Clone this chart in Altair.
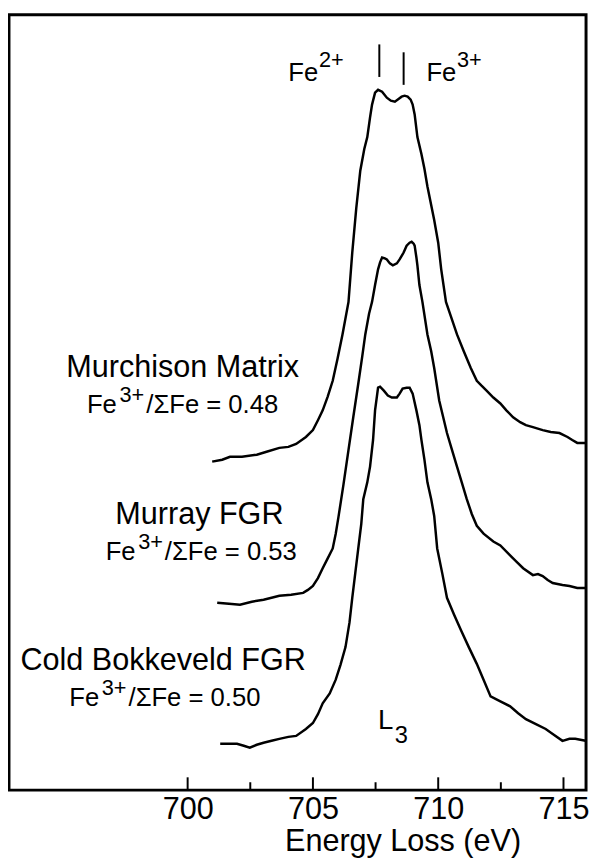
import altair as alt
import pandas as pd

# ---- spectra: energy loss (eV) and stacked intensity (arbitrary units, vertical offsets included)
murchison_energy = [700.98, 701.38, 701.69, 702.17, 702.76, 703.15, 703.66, 704.02, 704.33, 704.72,
                    705.00, 705.20, 705.39, 705.59, 705.79, 705.98, 706.18, 706.42, 706.57, 706.73,
                    706.89, 707.05, 707.17, 707.28, 707.36, 707.48, 707.60, 707.76, 707.95, 708.11,
                    708.27, 708.43, 708.54, 708.66, 708.78, 708.90, 708.98, 709.06, 709.17, 709.33,
                    709.45, 709.57, 709.84, 710.00, 710.12, 710.31, 710.51, 710.75, 711.02, 711.30,
                    711.54, 711.73, 711.93, 712.20, 712.48, 712.72, 712.99, 713.27, 713.50, 713.78,
                    714.17, 714.49, 714.84, 715.16, 715.35, 715.55, 715.88]
murchison_intensity = [333, 335, 338, 338, 340, 343, 347, 348, 351, 358,
                       365, 375, 385, 399, 415, 437, 462, 495, 545, 590,
                       628, 650, 662, 682, 695, 707, 710, 708, 702, 699,
                       698, 701, 703, 704, 703, 700, 695, 685, 662, 645,
                       630, 612, 578, 555, 528, 495, 480, 462, 445, 428,
                       415, 410, 405, 398, 392, 385, 378, 373, 370, 368,
                       365, 363, 362, 358, 355, 352, 352]

murray_energy = [701.18, 701.65, 702.09, 702.56, 703.03, 703.35, 703.66, 704.13, 704.61, 704.80,
                 705.00, 705.20, 705.39, 705.59, 705.79, 705.91, 706.02, 706.22, 706.42, 706.61,
                 706.81, 706.97, 707.09, 707.24, 707.36, 707.48, 707.60, 707.68, 707.76, 707.87,
                 707.95, 708.07, 708.19, 708.35, 708.46, 708.62, 708.74, 708.86, 708.94, 709.02,
                 709.06, 709.13, 709.17, 709.25, 709.37, 709.57, 709.72, 709.84, 710.04, 710.20,
                 710.35, 710.55, 710.75, 710.94, 711.14, 711.34, 711.54, 711.81, 712.20, 712.48,
                 712.87, 713.11, 713.39, 713.78, 713.98, 714.17, 714.37, 714.57, 714.96, 715.24,
                 715.55, 715.88]
murray_intensity = [190, 189, 188, 191, 193, 195, 197, 198, 200, 203,
                    207, 215, 225, 235, 245, 260, 277, 310, 345, 378,
                    412, 440, 462, 483, 495, 512, 528, 535, 540, 539,
                    538, 534, 532, 534, 538, 545, 552, 555, 556, 554,
                    552, 540, 532, 512, 495, 462, 445, 428, 395, 378,
                    362, 345, 328, 312, 295, 280, 268, 260, 252, 248,
                    238, 232, 225, 218, 219, 217, 213, 210, 208, 207,
                    205, 205]

bokkeveld_energy = [701.30, 701.65, 701.97, 702.24, 702.48, 702.76, 703.03, 703.35, 703.66, 704.02,
                    704.33, 704.72, 705.00, 705.20, 705.39, 705.67, 705.91, 706.10, 706.30, 706.46,
                    706.57, 706.69, 706.81, 706.93, 707.01, 707.17, 707.28, 707.40, 707.48, 707.60,
                    707.68, 707.83, 707.99, 708.15, 708.35, 708.46, 708.58, 708.74, 708.86, 708.98,
                    709.13, 709.25, 709.33, 709.45, 709.57, 709.72, 709.84, 709.96, 710.16, 710.35,
                    710.63, 710.91, 711.22, 711.54, 711.81, 712.09, 712.48, 712.87, 713.19, 713.50,
                    713.90, 714.29, 714.57, 714.96, 715.24, 715.47, 715.88]
bokkeveld_intensity = [47, 47, 47, 45, 43, 46, 48, 50, 52, 54,
                       55, 62, 68, 77, 88, 98, 112, 127, 145, 170,
                       195, 220, 245, 270, 295, 312, 328, 355, 385, 408,
                       409, 405, 400, 398, 398, 402, 407, 408, 408, 402,
                       385, 370, 355, 335, 312, 295, 278, 245, 220, 195,
                       178, 162, 145, 128, 112, 95, 90, 85, 78, 72,
                       67, 62, 57, 50, 52, 52, 50]

series_names = ["Murchison Matrix", "Murray FGR", "Cold Bokkeveld FGR"]

# ---- axis ticks
major_ticks = [700, 705, 710, 715]
minor_ticks = [702.5, 707.5, 712.5]

# ---- annotation texts (left aligned pieces, so that superscripts / subscripts work)
left_text = ["Fe", "2+", "Fe", "3+",
             "Fe", "3+", "/\u03a3Fe = 0.48",
             "Fe", "3+", "/\u03a3Fe = 0.53",
             "Fe", "3+", "/\u03a3Fe = 0.50",
             "L", "3"]
left_x = [704.02, 705.24, 709.53, 710.75,
          695.98, 697.28, 698.35,
          696.73, 698.03, 699.09,
          695.28, 696.57, 697.64,
          707.60, 708.27]
left_y = [719, 733, 719, 733,
          382, 393, 382,
          233, 244, 233,
          85, 96, 85,
          62, 48]
left_size = [26, 22, 26, 22,
             26, 22, 26,
             26, 22, 26,
             26, 22, 26,
             28, 24]

center_text = series_names
center_x = [699.80, 700.47, 699.02]
center_y = [419, 270, 122]

# Fe2+ / Fe3+ marker lines
marker_x = [707.65, 708.62]
marker_y = [723, 715]
marker_y2 = [756, 748]

# ---- build tables
rows = []
for name, es, vs in zip(series_names,
                        [murchison_energy, murray_energy, bokkeveld_energy],
                        [murchison_intensity, murray_intensity, bokkeveld_intensity]):
    for i, (e, v) in enumerate(zip(es, vs)):
        rows.append({"series": name, "energy": e, "intensity": v, "idx": i})
spectra = pd.DataFrame(rows)

X_DOMAIN = [692.87, 715.90]
Y_DOMAIN = [0, 786]
FONT = "Liberation Sans"

xs = alt.Scale(domain=X_DOMAIN, nice=False, zero=False)
ys = alt.Scale(domain=Y_DOMAIN, nice=False, zero=False)

lines = alt.Chart(spectra).mark_line(color="black", strokeWidth=2.5).encode(
    x=alt.X("energy:Q", scale=xs,
            axis=alt.Axis(values=major_ticks, ticks=False, domain=False, grid=False,
                          labelFont=FONT, labelFontSize=31, labelColor="black",
                          labelBaseline="alphabetic", labelPadding=29,
                          title="Energy Loss (eV)", titleFont=FONT, titleFontSize=31,
                          titleFontWeight="normal", titleColor="black",
                          titleBaseline="alphabetic", titleAlign="center",
                          titleX=399, titleY=61, labelFlush=False, labelOverlap=False)),
    y=alt.Y("intensity:Q", scale=ys, axis=None),
    detail="series:N",
    order="idx:Q",
)

tick_df = pd.DataFrame({"e": major_ticks + minor_ticks,
                        "len": [13] * len(major_ticks) + [8] * len(minor_ticks),
                        "zero": [0] * (len(major_ticks) + len(minor_ticks))})
ticks = alt.Chart(tick_df).mark_rule(color="black", strokeWidth=2).encode(
    x=alt.X("e:Q", scale=xs),
    y=alt.Y("zero:Q", scale=ys),
    y2="len:Q",
)

marker_df = pd.DataFrame({"x": marker_x, "y": marker_y, "y2": marker_y2})
markers = alt.Chart(marker_df).mark_rule(color="black", strokeWidth=2).encode(
    x=alt.X("x:Q", scale=xs), y=alt.Y("y:Q", scale=ys), y2="y2:Q"
)

left_df = pd.DataFrame({"t": left_text, "x": left_x, "y": left_y, "s": left_size})
left_labels = alt.Chart(left_df).mark_text(align="left", baseline="alphabetic", font=FONT,
                                           color="black").encode(
    x=alt.X("x:Q", scale=xs), y=alt.Y("y:Q", scale=ys), text="t:N",
    size=alt.Size("s:Q", scale=None, legend=None),
)

center_df = pd.DataFrame({"t": center_text, "x": center_x, "y": center_y})
center_labels = alt.Chart(center_df).mark_text(align="center", baseline="alphabetic", font=FONT,
                                               fontSize=31, color="black").encode(
    x=alt.X("x:Q", scale=xs), y=alt.Y("y:Q", scale=ys), text="t:N"
)

chart = alt.layer(lines, ticks, markers, left_labels, center_labels).properties(
    width=585, height=786,
    padding={"left": 1, "top": 1, "right": 3, "bottom": 71},
    autosize=alt.AutoSizeParams(type="none"),
    background="white",
).configure_view(stroke="black", strokeWidth=3)

chart.save("out.html", embed_options={"renderer": "svg", "actions": False})
